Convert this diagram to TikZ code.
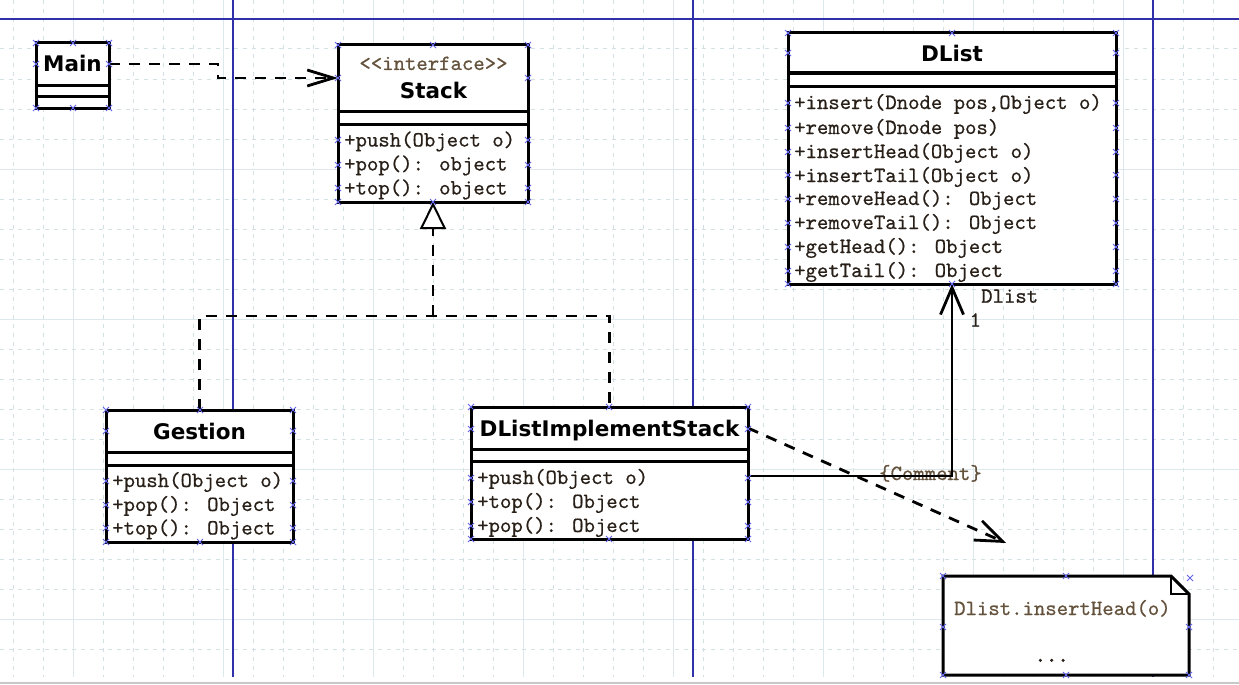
\documentclass[tikz,border=0pt]{standalone}
\usepackage{fontspec}
\newfontfamily\titlefont{DejaVu Sans}
\newfontfamily\monof{lmmono10-regular}[Extension=.otf, FakeBold=0.6]
\newfontfamily\monofb{lmmono10-regular}[Extension=.otf, FakeBold=2]
\usetikzlibrary{arrows.meta,calc}
\definecolor{gridc}{RGB}{212,225,228}
\definecolor{gridsolid}{RGB}{220,232,235}
\definecolor{bluel}{RGB}{48,48,168}
\definecolor{mkc}{RGB}{100,100,235}
\definecolor{txt}{RGB}{40,32,24}
\definecolor{ltxt}{RGB}{100,82,60}
\tikzset{
  cls/.style={draw, fill=white, line width=3pt, inner sep=0pt, outer sep=0pt, anchor=north west},
  hdr/.style={inner sep=0pt, outer sep=0pt, anchor=north west},
  sepline/.style={line width=3pt},
  title/.style={font=\titlefont\bfseries\fontsize{21.5}{24}\selectfont, inner sep=0pt, anchor=base, text=black},
  meth/.style={font=\monof\fontsize{21.7}{24}\selectfont, inner sep=0pt, anchor=base west, text=txt},
  lbl/.style={font=\monof\fontsize{21.7}{24}\selectfont, inner sep=0pt, text=ltxt},
  gdash/.style={draw=gridc, line width=1pt, dash pattern=on 4pt off 5pt},
  gsolid/.style={draw=gridsolid, line width=1pt},
  blueline/.style={draw=bluel, line width=1.5pt},
  dep/.style={line width=2.8pt, dash pattern=on 11pt off 9pt},
  assoc/.style={line width=2.8pt},
  mk/.style={draw=mkc, line width=0.9pt}
}
\begin{document}
\begin{tikzpicture}[x=1pt,y=-1pt]
\useasboundingbox (0,0) rectangle (1239,685);
\fill[white] (0,0) rectangle (1239,685);
% grid
\foreach \i in {0,...,40} {\pgfmathsetmacro\xx{13+30*\i}\draw[gdash] (\xx,0) -- (\xx,677);}
\foreach \yy in {49,79,...,649} {\draw[gdash] (0,\yy) -- (1239,\yy);}
\foreach \xx in {73,223,...,1123} {\draw[gsolid] (\xx,0) -- (\xx,677);}
\foreach \yy in {169,319,469,619} {\draw[gsolid] (0,\yy) -- (1239,\yy);}
\draw[draw={rgb,255:red,200;green,200;blue,200}, line width=2pt] (0,682.5) -- (1239,682.5);
% blue lines
\draw[blueline] (0,19) -- (1239,19);
\foreach \xx in {233,693,1153} {\draw[blueline] (\xx,0) -- (\xx,677);}

% Main
\node[cls, minimum width=73pt, minimum height=65pt] (main) at (36,43) {};
\node[hdr, minimum width=73pt, minimum height=42pt] (mainH) at (36,43) {};
\draw[sepline] (36,85) -- (109,85);
\draw[sepline] (36,96) -- (109,96);
\node[title] (mainT) at (72.5,71.7) {Main};

% Stack
\node[cls, minimum width=190pt, minimum height=157pt] (stack) at (338,45) {};
\node[hdr, minimum width=190pt, minimum height=66pt] (stackH) at (338,45) {};
\draw[sepline] (338,111) -- (528,111);
\draw[sepline] (338,124) -- (528,124);
\node[lbl, anchor=base] (stackS) at (433.5,70) {<<interface>>};
\node[title] (stackT) at (433.5,98.3) {Stack};
\node[meth] (stackM1) at (344,146.5) {+push(Object o)};
\node[meth] (stackM2) at (344,170.5) {+pop(): object};
\node[meth] (stackM3) at (344,194.5) {+top(): object};

% DList
\node[cls, minimum width=328pt, minimum height=251pt] (dlist) at (788,33) {};
\node[hdr, minimum width=328pt, minimum height=40pt] (dlistH) at (788,33) {};
\draw[sepline] (788,73) -- (1116,73);
\draw[sepline] (788,86) -- (1116,86);
\node[title] (dlistT) at (952,61.7) {DList};
\node[meth] (dl1) at (794,109) {+insert(Dnode pos,Object o)};
\node[meth] (dl2) at (794,134) {+remove(Dnode pos)};
\node[meth] (dl3) at (794,158) {+insertHead(Object o)};
\node[meth] (dl4) at (794,182) {+insertTail(Object o)};
\node[meth] (dl5) at (794,205) {+removeHead(): Object};
\node[meth] (dl6) at (794,229) {+removeTail(): Object};
\node[meth] (dl7) at (794,253) {+getHead(): Object};
\node[meth] (dl8) at (794,277) {+getTail(): Object};

% Gestion
\node[cls, minimum width=187pt, minimum height=132pt] (gestion) at (106,410) {};
\node[hdr, minimum width=187pt, minimum height=42pt] (gestionH) at (106,410) {};
\draw[sepline] (106,452) -- (293,452);
\draw[sepline] (106,465) -- (293,465);
\node[title] (gestionT) at (199.5,439.3) {Gestion};
\node[meth] (g1) at (112,487) {+push(Object o)};
\node[meth] (g2) at (112,511) {+pop(): Object};
\node[meth] (g3) at (112,534.5) {+top(): Object};

% DListImplementStack
\node[cls, minimum width=277pt, minimum height=132pt] (dlis) at (471,407) {};
\node[hdr, minimum width=277pt, minimum height=42pt] (dlisH) at (471,407) {};
\draw[sepline] (471,449) -- (748,449);
\draw[sepline] (471,461) -- (748,461);
\node[title] (dlisT) at (609.5,436.7) {DListImplementStack};
\node[meth] (d1) at (477,484) {+push(Object o)};
\node[meth] (d2) at (477,508) {+top(): Object};
\node[meth] (d3) at (477,532) {+pop(): Object};

% Note
\node[hdr, minimum width=246pt, minimum height=99pt] (note) at (943,576) {};
\draw[line width=3pt, fill=white] (note.north west) -- ($(note.north east)+(-18,0)$) -- ($(note.north east)+(0,18)$) -- (note.south east) -- (note.south west) -- cycle;
\draw[line width=1.5pt] ($(note.north east)+(-18,0)$) -- ($(note.north east)+(-18,18)$) -- ($(note.north east)+(0,18)$);
\node[lbl, anchor=base west] (noteT1) at (954,615) {Dlist.insertHead(o)};
\node[lbl, anchor=base, font=\monofb\fontsize{21.7}{24}\selectfont, text=txt] (noteT2) at (1051.7,661.7) {...};

% connectors
\draw[dep, -{Straight Barb[length=26pt,width=16pt]}] (mainH.east) -- ++(109,0) |- (stackH.west);
\coordinate (j) at (433,316);
\draw[dep] (gestion.north) |- (j) -| (dlis.north);
\draw[dep, -{Triangle[fill=white,length=27pt,width=26pt,line width=2pt]}] (j) -- (stack.south);
\node[lbl, anchor=base west] (cmt) at (879,480) {\{Comment\}};
\draw[assoc, -{Straight Barb[length=27pt,width=23pt]}] ($(dlis.north east)+(0,69)$) -| (dlist.south);
\node[meth] (roleN) at (981,302.7) {Dlist};
\node[meth] (roleM) at (969.5,326.7) {1};
\coordinate (noteEnd) at (1006,543);
\draw[dep, -{Straight Barb[length=27pt,width=21pt]}] (dlisH.east) -- (noteEnd);

% selection markers
\foreach \p in {(36,43),(73,43),(109,43),(36,64),(109,64),(36,108),(73,108),(109,108),
  (338,45),(433,45),(528,45),(338,78),(528,78),(338,140),(528,140),(338,165),(528,165),(338,188),(528,188),(338,202),(433,202),(528,202),
  (788,33),(952,33),(1116,33),(788,53),(1116,53),(788,284),(952,284),(1116,284),
  (106,410),(200,410),(293,410),(106,431),(293,431),(106,481),(293,481),(106,505),(293,505),(106,528),(293,528),(106,542),(200,542),(293,542),
  (471,407),(609,407),(748,407),(471,429),(748,429),(471,478),(748,478),(471,502),(748,502),(471,526),(748,526),(471,539),(609,539),(748,539),
  (943,576),(1066,576),(1190,578),(943,627),(1189,627),(943,675),(1066,675),(1189,675)}
  {\draw[mk] \p ++(-3,-3) -- ++(6,6) \p ++(-3,3) -- ++(6,-6);}
\foreach \yy in {103,128,152,175,199,223,247,271}
  {\draw[mk] (788,\yy) ++(-3,-3) -- ++(6,6) (788,\yy) ++(-3,3) -- ++(6,-6);
   \draw[mk] (1116,\yy) ++(-3,-3) -- ++(6,6) (1116,\yy) ++(-3,3) -- ++(6,-6);}
\end{tikzpicture}
\end{document}
